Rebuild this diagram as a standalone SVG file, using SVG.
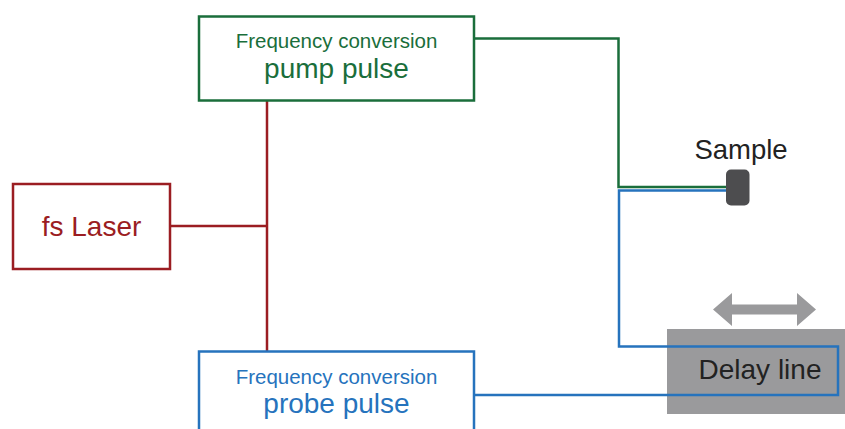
<svg xmlns="http://www.w3.org/2000/svg" width="845" height="429" viewBox="0 0 845 429">
  <style>
    text { font-family: "Liberation Sans", Arial, sans-serif; text-anchor: middle; }
    .box { fill: #ffffff; stroke-width: 2.5; }
    .wire { fill: none; stroke-width: 2.5; }
    .red { stroke: #9b1d22; }
    .green { stroke: #1a6e3b; }
    .blue { stroke: #2673bd; }
    .tred { fill: #9b1d22; }
    .tgreen { fill: #1a6e3b; }
    .tblue { fill: #2673bd; }
    .tdark { fill: #222222; }
  </style>

  <!-- delay stage (drawn first so the probe path sits on top) -->
  <g id="delay-line">
    <rect x="667" y="329" width="178" height="85" fill="#9a9a9c"/>
    <polygon points="713,309.5 732,293 732,304.5 797,304.5 797,293 816,309.5 797,326 797,314.5 732,314.5 732,326" fill="#9a9a9c"/>
    <text x="760" y="379" font-size="28" class="tdark">Delay line</text>
  </g>

  <!-- beam paths -->
  <g id="connectors">
    <polyline class="wire red" points="267,101 267,351"/>
    <polyline class="wire red" points="170,226 267,226"/>
    <polyline class="wire green" points="474,38.5 618.5,38.5 618.5,187 727,187"/>
    <polyline class="wire blue" points="727,190.5 619,190.5 619,346.5 838,346.5 838,395 474,395"/>
  </g>

  <g id="pump">
    <rect class="box green" x="199" y="16.5" width="275" height="84"/>
    <text x="336.5" y="48" font-size="20.5" class="tgreen">Frequency conversion</text>
    <text x="336.5" y="78" font-size="28" class="tgreen">pump pulse</text>
  </g>

  <g id="laser">
    <rect class="box red" x="13" y="184" width="157" height="85"/>
    <text x="91.5" y="236" font-size="28" class="tred">fs Laser</text>
  </g>

  <g id="probe">
    <rect class="box blue" x="199" y="351.5" width="275" height="90"/>
    <text x="336.5" y="383.5" font-size="20.5" class="tblue">Frequency conversion</text>
    <text x="336.5" y="413" font-size="28" class="tblue">probe pulse</text>
  </g>

  <g id="sample">
    <rect x="726" y="169.5" width="23.5" height="36" rx="5" fill="#4d4d4f"/>
    <text x="741" y="158.5" font-size="27.5" class="tdark">Sample</text>
  </g>
</svg>
